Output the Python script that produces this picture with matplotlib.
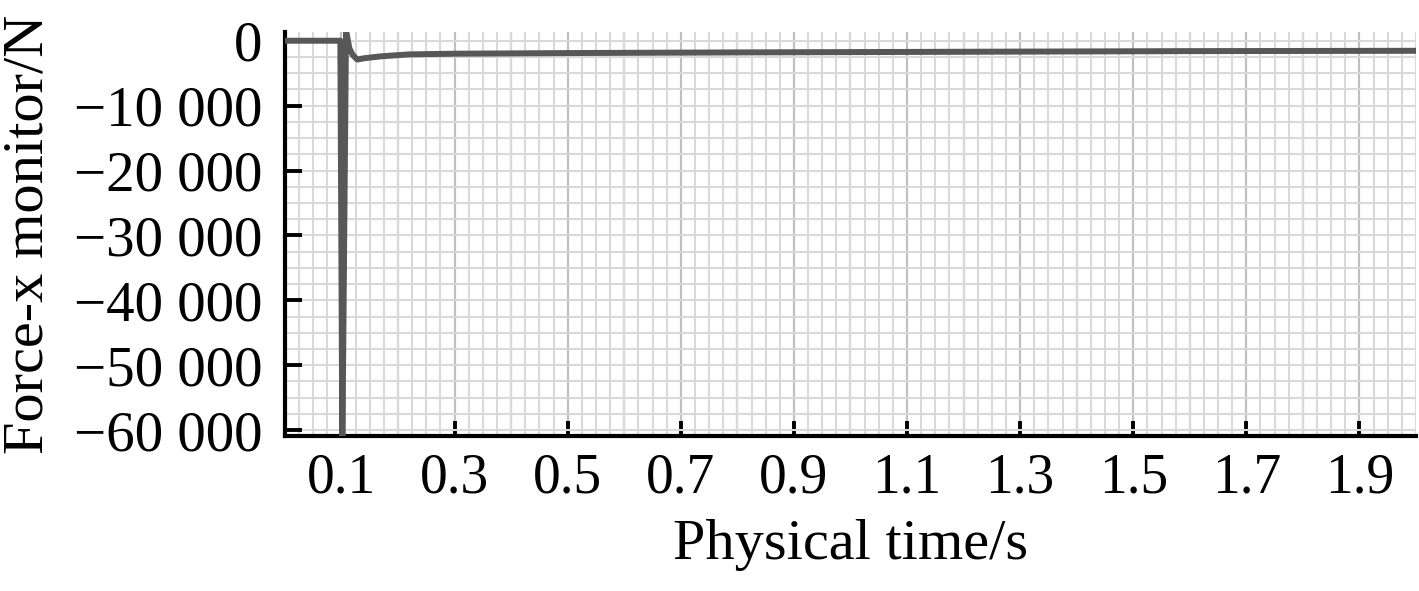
import numpy as np
import matplotlib
matplotlib.use('Agg')
import matplotlib.pyplot as plt
from matplotlib.ticker import MultipleLocator, FixedLocator, FuncFormatter

# data
time = [0.0, 0.098, 0.1015, 0.108, 0.114, 0.120, 0.128, 0.140, 0.170,
        0.220, 0.300, 0.500, 0.800, 1.200, 1.600, 2.000]
force = [0, 0, -63000, 1600, -1200, -2200, -2900, -2700, -2400,
         -2100, -2000, -1900, -1800, -1700, -1600, -1550]

xticks = [0.1, 0.3, 0.5, 0.7, 0.9, 1.1, 1.3, 1.5, 1.7, 1.9]
yticks = [0, -10000, -20000, -30000, -40000, -50000, -60000]

plt.rcParams['font.family'] = ['Liberation Serif', 'DejaVu Serif']

fig = plt.figure(figsize=(14.19, 5.91), dpi=100)
ax = fig.add_axes([0.2008, 0.2623, 0.7971, 0.6836])

ax.plot(time, force, '-', color='#575757', lw=4.3, zorder=5)

ax.set_xlim(0, 2.0)
ax.set_ylim(-60900, 1350)

# grid
ax.xaxis.set_minor_locator(MultipleLocator(0.025))
ax.yaxis.set_minor_locator(MultipleLocator(2500))
ax.grid(which='minor', color='#d9d9d9', lw=1.5, zorder=0)
ax.grid(which='major', axis='y', color='#d9d9d9', lw=1.5, zorder=0)
for xv in np.arange(0.1, 2.0, 0.1):
    ax.axvline(xv, color='#c0c0c0', lw=1.6, zorder=1)

ax.xaxis.set_major_locator(FixedLocator(xticks))
ax.yaxis.set_major_locator(FixedLocator(yticks))
ax.xaxis.set_major_formatter(FuncFormatter(lambda v, p: '{:.1f}'.format(v)))

def yfmt(v, p):
    s = '{:,.0f}'.format(abs(v)).replace(',', ' ')
    return ('\u2212' + s) if v < 0 else s
ax.yaxis.set_major_formatter(FuncFormatter(yfmt))

ax.tick_params(which='minor', length=0)
ax.tick_params(axis='x', which='major', direction='in', length=11, width=2.8,
               labelsize=40, pad=12, color='black')
ax.tick_params(axis='y', which='major', direction='in', length=12, width=2.8,
               labelsize=41, pad=16, color='black')

for s in ['top', 'right']:
    ax.spines[s].set_visible(False)
for s in ['left', 'bottom']:
    ax.spines[s].set_linewidth(3)
    ax.spines[s].set_color('black')

ax.set_xlabel('Physical time/s', fontsize=42, labelpad=10)
ax.set_ylabel('Force-x monitor/N', fontsize=42, labelpad=14)

fig.savefig('out.png', dpi=100)
